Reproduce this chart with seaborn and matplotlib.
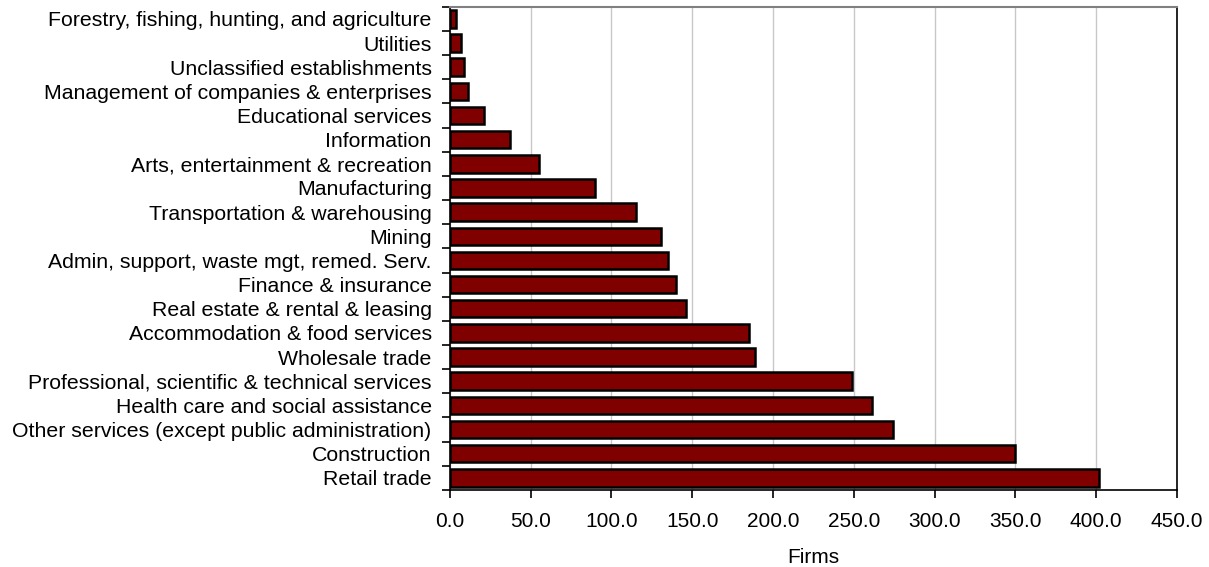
import pandas as pd
import matplotlib.pyplot as plt
import seaborn as sns

# Firms by industry
industries = [
    "Forestry, fishing, hunting, and agriculture",
    "Utilities",
    "Unclassified establishments",
    "Management of companies & enterprises",
    "Educational services",
    "Information",
    "Arts, entertainment & recreation",
    "Manufacturing",
    "Transportation & warehousing",
    "Mining",
    "Admin, support, waste mgt, remed. Serv.",
    "Finance & insurance",
    "Real estate & rental & leasing",
    "Accommodation & food services",
    "Wholesale trade",
    "Professional, scientific & technical services",
    "Health care and social assistance",
    "Other services (except public administration)",
    "Construction",
    "Retail trade",
]
firms = [4, 7, 9, 11, 21, 37, 55, 90, 115, 131, 135, 140, 146, 185, 189, 249, 261, 274, 350, 402]
x_ticks = [0, 50, 100, 150, 200, 250, 300, 350, 400, 450]

df = pd.DataFrame({"Industry": industries, "Firms": firms})

sns.set_theme(style="white")
plt.rcParams["font.family"] = ["Liberation Sans", "DejaVu Sans"]

fig, ax = plt.subplots(figsize=(12.09, 5.67), dpi=100)
fig.subplots_adjust(left=0.372, right=0.9735, top=0.988, bottom=0.136)

sns.barplot(
    data=df,
    x="Firms",
    y="Industry",
    order=industries,
    color="#800000",
    saturation=1,
    width=0.72,
    edgecolor="black",
    linewidth=1.8,
    ax=ax,
)

ax.set_xlim(0, 450)
ax.set_ylim(len(industries) - 0.5, -0.5)
ax.set_xticks(x_ticks)
ax.set_xticklabels([f"{v:.1f}" for v in x_ticks])
ax.xaxis.grid(True, color="#c8c8c8", linewidth=1)
ax.set_axisbelow(True)

# category boundary ticks on the y axis, Excel style
ax.set_yticks([i - 0.5 for i in range(len(industries) + 1)], minor=True)
ax.tick_params(axis="y", which="major", length=0, pad=13, labelsize=15.3, colors="black")
ax.tick_params(axis="y", which="minor", left=True, length=6, width=1.2, color="black")
ax.tick_params(axis="x", which="major", bottom=True, length=6, width=1.2, pad=10,
               labelsize=15, colors="black")

for side in ["left", "bottom", "right"]:
    ax.spines[side].set_color("black")
    ax.spines[side].set_linewidth(1.2)
ax.spines["top"].set_color("#808080")
ax.spines["top"].set_linewidth(1.5)

ax.set_ylabel("")
ax.set_xlabel("Firms", fontsize=15, color="black", labelpad=12)

plt.savefig("out.png", dpi=100)
